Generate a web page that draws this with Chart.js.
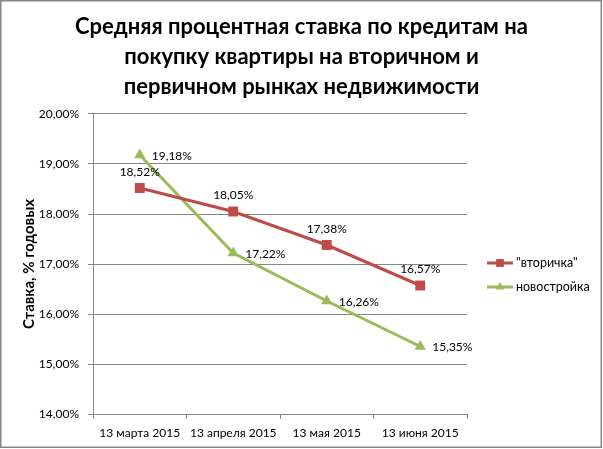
<!DOCTYPE html>
<html>
<head>
<meta charset="utf-8">
<script src="https://cdn.jsdelivr.net/npm/chart.js@4"></script>
<style>
  html, body { margin: 0; padding: 0; background: #fff; }
  #wrap { width: 603px; height: 449px; position: relative; }
</style>
</head>
<body>
<div id="wrap"><canvas id="c" width="603" height="449"></canvas></div>
<script>
const titleLines = ["Средняя процентная ставка по кредитам на", "покупку квартиры на вторичном и", "первичном рынках недвижимости"];
const categories = ["13 марта 2015", "13 апреля 2015", "13 мая 2015", "13 июня 2015"];
const seriesNames = ["\"вторичка\"", "новостройка"];
const secondary = [18.52, 18.05, 17.38, 16.57];
const newBuild = [19.18, 17.22, 16.26, 15.35];
const yMin = 14, yMax = 20, yStep = 1;
const yTitle = "Ставка, % годовых";

const FONT = "Lato, 'Open Sans', 'DejaVu Sans', sans-serif";
const fmt = v => v.toFixed(2).replace('.', ',') + '%';

const frame = {
  id: 'frame',
  afterDraw(chart) {
    const ctx = chart.ctx;
    ctx.save();
    ctx.strokeStyle = '#868686';
    ctx.lineWidth = 1.5;
    ctx.strokeRect(0.75, 0.75, 600.5, 446.5);
    ctx.restore();
  }
};

const labelsPlugin = {
  id: 'valueLabels',
  afterDatasetsDraw(chart) {
    const ctx = chart.ctx;
    ctx.save();
    ctx.font = "12px " + FONT;
    ctx.fillStyle = '#000';
    chart.data.datasets.forEach((ds, i) => {
      const meta = chart.getDatasetMeta(i);
      meta.data.forEach((pt, j) => {
        const txt = fmt(ds.data[j]);
        if (i === 0) {
          ctx.textAlign = 'center';
          ctx.textBaseline = 'middle';
          ctx.fillText(txt, pt.x, pt.y - 16);
        } else {
          ctx.textAlign = 'left';
          ctx.textBaseline = 'middle';
          ctx.fillText(txt, pt.x + 12, pt.y + 1);
        }
      });
    });
    ctx.restore();
  }
};

const legendPlugin = {
  id: 'sideLegend',
  afterDraw(chart) {
    const ctx = chart.ctx;
    const area = chart.chartArea;
    ctx.save();
    ctx.font = "12.5px " + FONT;
    ctx.textBaseline = 'middle';
    ctx.textAlign = 'left';
    const x0 = area.right + 20;
    const yc = (area.top + area.bottom) / 2;
    chart.data.datasets.forEach((ds, i) => {
      const y = yc - 1 + i * 24;
      ctx.strokeStyle = ds.borderColor;
      ctx.lineWidth = 3;
      ctx.beginPath();
      ctx.moveTo(x0, y);
      ctx.lineTo(x0 + 26, y);
      ctx.stroke();
      ctx.fillStyle = ds.backgroundColor;
      Chart.helpers.drawPoint(ctx, {pointStyle: ds.pointStyle, radius: ds.pointRadius - 1.5, rotation: 0, borderWidth: 0}, x0 + 13, y);
      ctx.fillStyle = '#000';
      ctx.fillText(ds.label, x0 + 29, y);
    });
    ctx.restore();
  }
};

new Chart(document.getElementById('c'), {
  type: 'line',
  data: {
    labels: categories,
    datasets: [
      {
        label: seriesNames[0], data: secondary,
        borderColor: '#BE4B48', backgroundColor: '#BE4B48',
        borderWidth: 3, pointStyle: 'rect', pointRadius: 7, pointBorderWidth: 0,
        tension: 0
      },
      {
        label: seriesNames[1], data: newBuild,
        borderColor: '#9BBB59', backgroundColor: '#9BBB59',
        borderWidth: 3, pointStyle: 'triangle', pointRadius: 6.5, pointBorderWidth: 0,
        tension: 0
      }
    ]
  },
  options: {
    responsive: false,
    animation: false,
    devicePixelRatio: 1,
    layout: { padding: 0 },
    plugins: {
      legend: { display: false },
      tooltip: { enabled: false },
      title: {
        display: true,
        text: titleLines,
        color: '#000',
        font: { family: FONT, size: 22, weight: 'bold', lineHeight: 30 / 22 },
        padding: { top: 12, bottom: 12 }
      }
    },
    scales: {
      x: {
        offset: true,
        grid: { offset: true, drawOnChartArea: false, drawTicks: true, tickLength: 5, color: '#868686', lineWidth: 1 },
        border: { display: true, color: '#868686', width: 1 },
        ticks: { color: '#000', font: { family: FONT, size: 12 }, padding: 7, maxRotation: 0, autoSkip: false },
        afterFit(scale) { scale.height = 35; }
      },
      y: {
        min: yMin, max: yMax,
        grid: { color: '#868686', lineWidth: 1, tickLength: 5 },
        border: { display: true, color: '#868686', width: 1 },
        ticks: { stepSize: yStep, color: '#000', font: { family: FONT, size: 12 }, padding: 9, callback: v => fmt(v) },
        title: { display: true, text: yTitle, color: '#000', font: { family: FONT, size: 15, weight: 'bold' }, padding: { top: 20, bottom: 0 } },
        afterFit(scale) { scale.width = 93; }
      },
      legendSpace: {
        type: 'linear',
        position: 'right',
        display: true,
        grid: { display: false, drawTicks: false },
        border: { display: false },
        ticks: { display: false },
        afterFit(scale) { scale.width = 136; }
      }
    }
  },
  plugins: [frame, labelsPlugin, legendPlugin]
});
</script>
</body>
</html>
